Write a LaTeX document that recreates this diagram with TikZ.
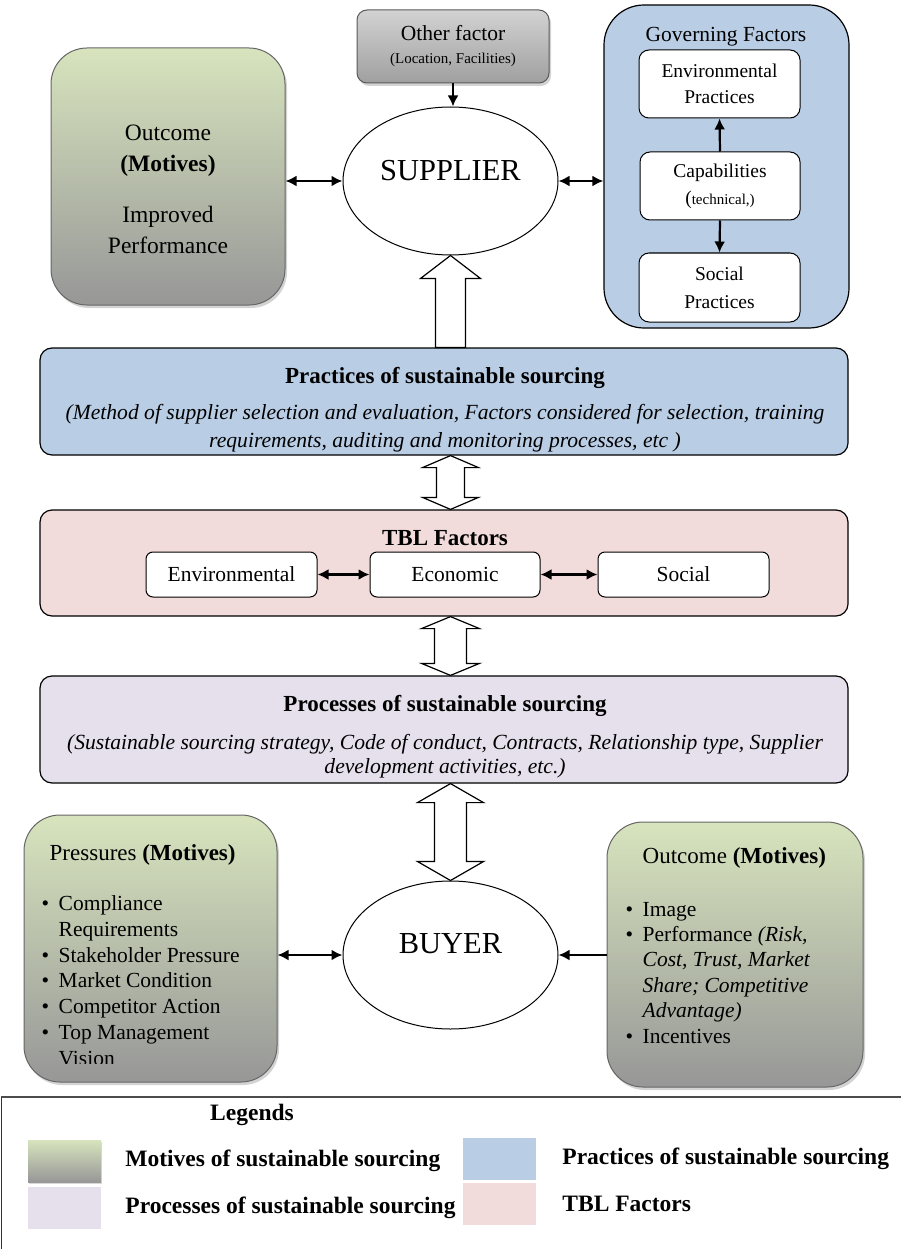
\documentclass[tikz,border=0pt]{standalone}
\usepackage{fontspec}
\setmainfont{Liberation Serif}
\usetikzlibrary{shapes.geometric,positioning,calc,shadows,arrows.meta}
\definecolor{motivetop}{HTML}{D7E4BD}
\definecolor{motivebot}{HTML}{979797}
\definecolor{practblue}{HTML}{B9CDE5}
\definecolor{tblpink}{HTML}{F2DCDB}
\definecolor{proclav}{HTML}{E5E0EC}
\newcommand{\itm}[1][13pt]{\makebox[#1][l]{\textbullet}}
\newcommand{\itc}[1][13pt]{\makebox[#1]{}}

\begin{document}
\begin{tikzpicture}[x=1pt, y=-1pt,
  every node/.style={align=center, font=\fontsize{21.5}{26}\selectfont},
  motive/.style={draw=gray!80!black, line width=1pt, rounded corners=36pt, top color=motivetop, bottom color=motivebot,
    drop shadow={shadow xshift=2pt, shadow yshift=-3pt, opacity=.35}},
  other/.style={draw=gray!70!black, line width=1pt, rounded corners=10pt, top color=gray!35!white, middle color=white, bottom color=gray!75!white,
    drop shadow={shadow xshift=2pt, shadow yshift=-3pt, opacity=.35}},
  party/.style={draw, ellipse, fill=white, line width=1pt, minimum width=215pt, minimum height=148pt, text depth=22pt,
    font=\fontsize{30.5}{36}\selectfont},
  inbox/.style={draw, fill=white, line width=1pt, rounded corners=10pt},
  pbox/.style={draw, line width=1.2pt, rounded corners=12pt, minimum width=808pt, minimum height=107pt},
  swatch/.style={draw=none, minimum width=73pt, minimum height=42pt},
  legtext/.style={inner sep=0pt, font=\bfseries\fontsize{23.5}{26}\selectfont},
  arrow/.style={{Latex[length=11pt,width=11pt]}-{Latex[length=11pt,width=11pt]}, line width=2.2pt},
  oneway/.style={-{Latex[length=11pt,width=11pt]}, line width=2.2pt},
  hollow/.style={draw, fill=white, line width=1.2pt, line join=miter}
]
\useasboundingbox (0,0) rectangle (901,1249);

% supplier side
\node[motive, minimum width=234pt, minimum height=257pt] (supout) at (168,176.5) {};
\node[font=\fontsize{23.5}{31}\selectfont] (supouttext) at (168,189)
  {Outcome\\\textbf{(Motives)}\\[20pt]Improved\\Performance};
\node[other, minimum width=192pt, minimum height=73pt] (other) at (453,46.5)
  {Other factor\\[-3pt]{\fontsize{15}{18}\selectfont (Location, Facilities)}};
\node[party] (sup) at (450.5,181) {SUPPLIER};
\node[draw, fill=practblue, line width=1.2pt, rounded corners=40pt, minimum width=245pt, minimum height=323pt] (gov) at (726.5,166.5) {};
\node (govtitle) at (726,37) {Governing Factors};
\node[inbox, minimum width=161pt, minimum height=68pt, font=\fontsize{19.5}{26}\selectfont] (env) at (719.5,84) {Environmental\\Practices};
\node[inbox, minimum width=160pt, minimum height=68pt, font=\fontsize{19.5}{27}\selectfont] (cap) at (720,186)
  {Capabilities\\({\fontsize{15}{18}\selectfont technical,)}};
\node[inbox, minimum width=161pt, minimum height=69pt, font=\fontsize{19.5}{28}\selectfont] (soc) at (719.5,287.5) {Social\\Practices};

\draw[oneway] (other.south) -- (other.south |- sup.north);
\draw[arrow] (sup.west -| supout.east) -- (sup.west);
\draw[arrow] (sup.east) -- (sup.east -| gov.west);
\draw[oneway] (cap.north) -- (env.south);
\draw[oneway] (cap.south) -- (soc.north);

% bands
\node[pbox, fill=practblue] (prac) at (444,401.5) {};
\node[font=\fontsize{21.6}{28}\selectfont] (practext) at (445,409.5)
  {{\bfseries\fontsize{23}{28}\selectfont Practices of sustainable sourcing}\\[8pt]
   \itshape (Method of supplier selection and evaluation, Factors considered for selection, training\\
   \itshape requirements, auditing and monitoring processes, etc )};
\node[pbox, fill=tblpink, minimum height=106pt] (tbl) at (444,563) {};
\node[font=\bfseries\fontsize{23}{28}\selectfont] (tbltitle) at (445,538) {TBL Factors};
\node[inbox, rounded corners=7pt, minimum width=171pt, minimum height=45pt] (tenv) at (231.5,574.5) {Environmental};
\node[inbox, rounded corners=7pt, minimum width=170pt, minimum height=45pt] (tecon) at (455,574.5) {Economic};
\node[inbox, rounded corners=7pt, minimum width=171pt, minimum height=45pt] (tsoc) at (683.5,574.5) {Social};
\draw[arrow] (tenv.east) -- (tecon.west);
\draw[arrow] (tecon.east) -- (tsoc.west);
\node[pbox, fill=proclav] (proc) at (444,729.5) {};
\node[font=\fontsize{21.6}{24}\selectfont] (proctext) at (445,736.5)
  {{\bfseries\fontsize{23}{28}\selectfont Processes of sustainable sourcing}\\[14pt]
   \itshape (Sustainable sourcing strategy, Code of conduct, Contracts, Relationship type, Supplier\\
   \itshape development activities, etc.)};

% buyer side
\node[party] (buy) at (450.5,955) {BUYER};
\node[motive, minimum width=253pt, minimum height=267pt] (press) at (150.5,948.5) {};
\begin{scope}
  \clip (press.north west) rectangle ($(press.south east)+(0,-19)$);
  \node[anchor=north west, align=left, inner sep=0pt, font=\fontsize{21.5}{25.8}\selectfont] (presstext) at ($(press.north west)+(18,30)$)
    {{\fontsize{23}{28}\selectfont\hspace{8pt}Pressures \textbf{(Motives)}}\\[24pt]
     \itm[17pt]Compliance\\ \itc[17pt]Requirements\\ \itm[17pt]Stakeholder Pressure\\ \itm[17pt]Market Condition\\
     \itm[17pt]Competitor Action\\ \itm[17pt]Top Management\\ \itc[17pt]Vision};
\end{scope}
\node[motive, minimum width=256pt, minimum height=265pt] (buyout) at (735,954.5) {};
\node[anchor=north west, align=left, inner sep=0pt, font=\fontsize{21.5}{25.4}\selectfont] (buyouttext) at ($(buyout.north west)+(19,26)$)
  {{\fontsize{23}{28}\selectfont\hspace{17pt}Outcome \textbf{(Motives)}}\\[27pt]
   \itm[17pt]Image\\ \itm[17pt]Performance \textit{(Risk,}\\ \itc[17pt]\textit{Cost, Trust, Market}\\
   \itc[17pt]\textit{Share; Competitive}\\ \itc[17pt]\textit{Advantage)}\\ \itm[17pt]Incentives};
\draw[arrow] (buy.west -| press.east) -- (buy.west);
\draw[oneway] (buy.east -| buyout.west) -- (buy.east);

% hollow arrows
\draw[hollow] (sup.south) -- ++(30,23) -- ++(-15,0) -- ($(sup.south |- prac.north)+(15,0)$) -- ++(-30,0)
  -- ($(sup.south)+(-15,23)$) -- ++(-15,0) -- cycle;
\coordinate (pa) at (sup.south |- prac.south);
\coordinate (pb) at (sup.south |- tbl.north);
\draw[hollow] (pa) -- ++(28,12) -- ++(-14,0) -- ($(pb)+(14,-12)$) -- ++(14,0) -- (pb) -- ++(-28,-12)
  -- ++(14,0) -- ($(pa)+(-14,12)$) -- ++(-14,0) -- cycle;
\coordinate (ta) at (sup.south |- tbl.south);
\coordinate (tb) at (sup.south |- proc.north);
\draw[hollow] (ta) -- ++(29,12) -- ++(-13,0) -- ($(tb)+(16,-12)$) -- ++(13,0) -- (tb) -- ++(-29,-12)
  -- ++(13,0) -- ($(ta)+(-16,12)$) -- ++(-13,0) -- cycle;
\coordinate (ra) at (sup.south |- proc.south);
\draw[hollow] (ra) -- ++(33,19) -- ++(-17,0) -- ($(buy.north)+(16,-19)$) -- ++(17,0) -- (buy.north) -- ++(-33,-19)
  -- ++(17,0) -- ($(ra)+(-16,19)$) -- ++(-17,0) -- cycle;

% legend
\draw[line width=1pt, draw=black!80] (1,1275) -- (1,1097) -- (920,1097);
\draw[line width=2.5pt, draw=black!70] (1,1097) -- (920,1097);
\node[legtext] (legtitle) at (252,1115) {Legends};
\node[swatch, top color=motivetop, bottom color=motivebot, drop shadow={shadow xshift=1pt, shadow yshift=-2pt, opacity=.3}] (swmot) at (64.5,1161) {};
\node[swatch, fill=proclav] (swproc) at (64.5,1207.5) {};
\node[swatch, fill=practblue] (swprac) at (499.5,1159) {};
\node[swatch, fill=tblpink] (swtbl) at (499.5,1204) {};
\node[legtext, right=24pt of swmot] (lgmot) {Motives of sustainable sourcing};
\node[legtext, right=24pt of swproc] (lgproc) {Processes of sustainable sourcing};
\node[legtext, right=26pt of swprac] (lgprac) {Practices of sustainable sourcing};
\node[legtext, right=26pt of swtbl] (lgtbl) {TBL Factors};
\end{tikzpicture}
\end{document}
